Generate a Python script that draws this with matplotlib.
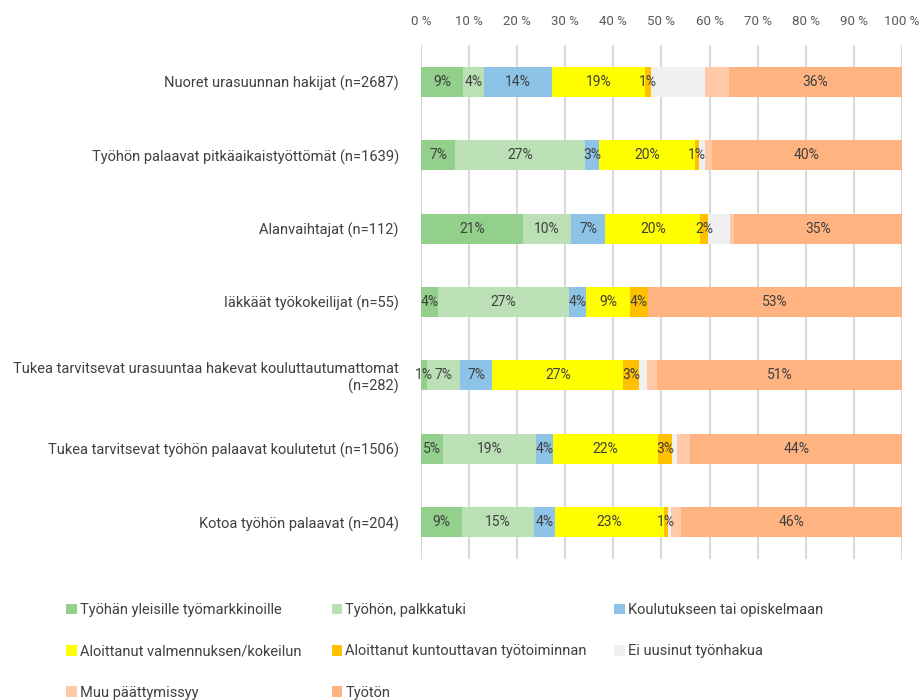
import matplotlib
matplotlib.use("Agg")
import matplotlib.pyplot as plt
from matplotlib.patches import Patch
import numpy as np

plt.rcParams['font.family'] = ['Roboto', 'DejaVu Sans']

categories = [
    "Nuoret urasuunnan hakijat (n=2687)",
    "Työhön palaavat pitkäaikaistyöttömät (n=1639)",
    "Alanvaihtajat (n=112)",
    "Iäkkäät työkokeilijat (n=55)",
    "Tukea tarvitsevat urasuuntaa hakevat kouluttautumattomat\n(n=282)",
    "Tukea tarvitsevat työhön palaavat koulutetut (n=1506)",
    "Kotoa työhön palaavat (n=204)",
]

series_names = [
    "Työhän yleisille työmarkkinoille",
    "Työhön, palkkatuki",
    "Koulutukseen tai opiskelmaan",
    "Aloittanut valmennuksen/kokeilun",
    "Aloittanut kuntouttavan työtoiminnan",
    "Ei uusinut työnhakua",
    "Muu päättymissyy",
    "Työtön",
]

yleiset      = [8.8, 7.1, 21.3, 3.6, 1.2, 4.6, 8.6]
palkkatuki   = [4.2, 27.0, 9.9, 27.2, 6.9, 19.4, 14.9]
koulutus     = [14.3, 2.9, 7.1, 3.5, 6.7, 3.5, 4.3]
valmennus    = [19.2, 20.0, 19.8, 9.2, 27.3, 21.8, 22.7]
kuntouttava  = [1.3, 0.8, 1.6, 3.6, 3.2, 2.9, 0.9]
ei_uusinut   = [11.2, 1.2, 4.6, 0.0, 1.6, 1.0, 0.5]
muu          = [5.1, 1.4, 0.8, 0.0, 2.1, 2.8, 2.1]
tyoton       = [35.9, 39.6, 34.9, 52.9, 51.0, 44.0, 46.1]

colors = ["#92D08C", "#BBE0B5", "#8DC3E6", "#FFFF00",
          "#FFC000", "#F0F0F0", "#FFC9A8", "#FFB381"]
show_labels = [True, True, True, True, True, False, False, True]

data = [yleiset, palkkatuki, koulutus, valmennus, kuntouttava, ei_uusinut, muu, tyoton]

fig = plt.figure(figsize=(9.2, 7.0), dpi=100)
ax = fig.add_axes([0.4576, 0.2014, 0.5228, 0.7343])

y = np.arange(len(categories))
left = np.zeros(len(categories))
handles = []
for vals, name, col, lab in zip(data, series_names, colors, show_labels):
    vals = np.array(vals)
    bars = ax.barh(y, vals, left=left, height=0.41, color=col, edgecolor="none", zorder=3)
    if lab:
        ax.bar_label(bars, labels=[f"{int(v + 0.5)}%" if v > 0 else "" for v in vals],
                     label_type="center", color="#404040", fontsize=10, zorder=4)
    handles.append(Patch(facecolor=col, edgecolor="none"))
    left += vals

ax.set_xlim(0, 100)
ax.set_ylim(len(categories) - 0.5, -0.5)
ax.set_xticks(np.arange(0, 101, 10))
ax.set_xticklabels([f"{v} %" for v in range(0, 101, 10)])
ax.xaxis.tick_top()
ax.tick_params(axis="x", length=0, pad=12, labelsize=9.5, labelcolor="#595959")
ax.set_yticks(y)
ax.set_yticklabels(categories)
ax.tick_params(axis="y", length=0, pad=16, labelsize=10.5, labelcolor="#404040")
ax.grid(axis="x", color="#D9D9D9", linewidth=1.5, zorder=0)
for s in ax.spines.values():
    s.set_visible(False)

# legend laid out in three columns, filled row by row
col_x = [0.0655, 0.354, 0.661]
for c in range(3):
    idx = list(range(c, len(series_names), 3))
    fig.legend([handles[i] for i in idx], [series_names[i] for i in idx],
               loc="upper left", bbox_to_anchor=(col_x[c], 0.147), frameon=False,
               fontsize=10.5, labelcolor="#404040", handlelength=0.75, handleheight=0.75,
               handletextpad=0.2, labelspacing=1.88, borderaxespad=0)

fig.savefig("out.png", dpi=100)
